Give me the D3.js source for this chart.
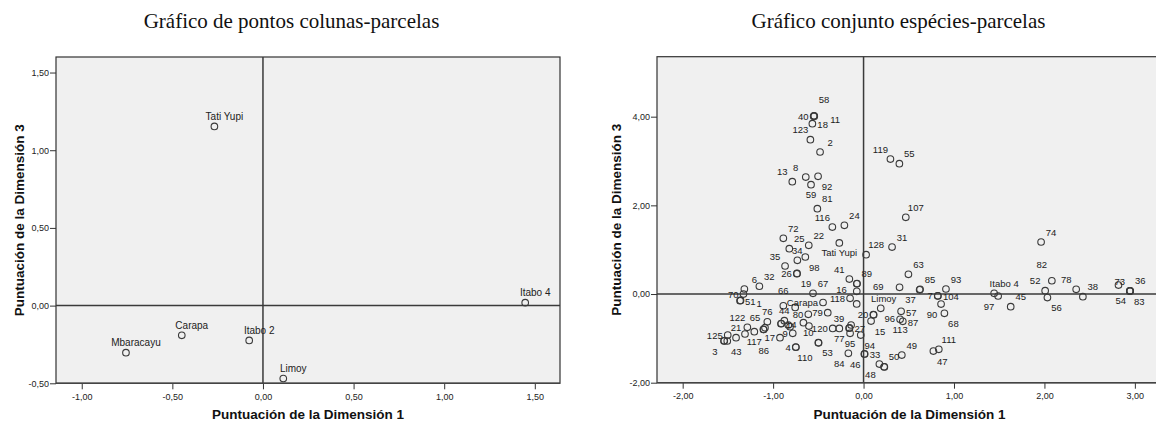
<!DOCTYPE html>
<html><head><meta charset="utf-8">
<script src="https://cdn.jsdelivr.net/npm/d3@7"></script>
<style>
body{margin:0;background:#fff;}
svg{display:block;}
.tick text{font-family:"Liberation Sans",Arial,sans-serif;font-size:9px;fill:#222;}
.lbl{font-family:"Liberation Sans",Arial,sans-serif;fill:#222;}
.ttl{font-family:"Liberation Serif","Times New Roman",serif;font-size:21px;fill:#111;}
.axt{font-family:"Liberation Sans",Arial,sans-serif;font-size:13.5px;font-weight:bold;fill:#111;}
</style></head>
<body>
<svg id="c" width="1156" height="422"></svg>
<script>
// ---------- DATA ----------
// Left chart: column (site) points
const siteNames = ["Tati Yupi","Itabo 4","Carapa","Itabo 2","Mbaracayu","Limoy"];
const siteDim1  = [-0.268, 1.447, -0.448, -0.076, -0.756, 0.112];
const siteDim3  = [ 1.153, 0.019, -0.191, -0.224, -0.303, -0.469];

// Right chart: joint plot species + sites (label, dim1, dim3); null label = label hidden
const jointLabels = ["58","40","11","18","123","2","119","55","13","8","92","59","81","107","116","24",
 "72","25","22","Tati Yupi","34","98","35","128","31","26","19","32","6","70","51","1","41","89","69",
 "63","85","37",null,"93","7","104","Itabo 4","97","45","74","82","52","56","78","38",null,"73","36","54","83",
 "16","118","Itabo 2","Carapa","67","66","Mbaracayu","76","44","14",null,"80","79","122","65",null,"86","117",
 null,"125","21","3",null,"43","17","9",null,null,"4","110","10","53","120","77","39","27",null,"95","94",
 "84","46","33","48","50",null,"49","47","111","Limoy","20","15","96","57","113","87","90","68",null,null];
const jointDim1 = [-0.548,-0.552,-0.545,-0.566,-0.588,-0.481,0.297,0.396,-0.788,-0.639,-0.503,-0.581,-0.511,0.467,-0.345,-0.212,
 -0.887,-0.821,-0.606,-0.268,-0.732,-0.644,-0.868,0.028,0.315,-0.738,-0.735,-1.152,-1.318,-1.328,-1.366,-1.360,-0.157,-0.075,-0.072,
 0.496,0.625,0.620,0.398,0.911,0.820,0.822,1.444,1.488,1.627,1.963,2.082,2.008,2.033,2.351,2.425,2.819,2.944,2.948,2.944,2.948,
 -0.075,-0.149,-0.076,-0.448,-0.559,-0.887,-0.756,-1.064,-0.876,-0.913,-0.910,-0.611,-0.396,-1.285,-1.090,-1.108,-1.104,-1.208,
 -1.311,-1.502,-1.410,-1.543,-1.540,-1.507,-0.924,-0.783,-0.813,-0.832,-0.750,-0.748,-0.500,-0.497,-0.341,-0.268,-0.160,-0.155,-0.138,-0.149,-0.031,
 -0.168,0.009,0.012,0.175,0.227,0.230,0.423,0.772,0.832,0.112,0.108,0.083,0.190,0.415,0.404,0.434,0.857,0.894,-0.665,-0.604];
const jointDim3 = [4.020,4.010,4.012,3.842,3.481,3.203,3.045,2.940,2.534,2.639,2.654,2.466,1.925,1.730,1.511,1.549,
 1.256,1.022,1.098,1.153,0.760,0.835,0.632,0.887,1.060,0.460,0.465,0.175,0.113,0.000,-0.150,-0.145,0.338,0.232,0.236,
 0.444,0.106,0.095,0.151,0.113,-0.040,-0.042,0.016,-0.045,-0.286,1.173,0.300,0.075,-0.080,0.106,-0.060,0.203,0.068,0.072,0.070,0.066,
 0.060,-0.097,-0.224,-0.191,0.016,-0.264,-0.303,-0.625,-0.602,-0.670,-0.665,-0.458,-0.420,-0.752,-0.760,-0.797,-0.800,-0.850,
 -0.902,-0.925,-0.985,-1.060,-1.055,-1.060,-0.985,-0.887,-0.737,-0.699,-1.195,-1.200,-1.098,-1.100,-0.775,-0.775,-0.770,-0.765,-0.699,-0.887,-0.925,
 -1.338,-1.353,-1.350,-1.579,-1.640,-1.645,-1.376,-1.286,-1.248,-0.469,-0.465,-0.609,-0.323,-0.390,-0.571,-0.615,-0.226,-0.436,-0.647,-0.722];
// label placement around the point (compass code)
const jointLabelPos = ["NE","w","E","e","nw","ne","nw","ne","nw","nw","se","s","ne","ne","nw","ne",
 "ne","ne","ne","s","n","se","nw","ne","ne","w","se","ne","ne","w","e","E","nw","ne","E",
 "ne","ne","sw","","ne","w","e","ne","sw","ne","ne","NW","nw","se","nw","ne","","nw","ne","sw","se",
 "W","w","","w","ne","N","","n","n","e","","w","w","nw","nw","","S","s",
 "","w","n","sw","","se","w","w","","","w","se","nw","se","w","s","nw","e","","s","se",
 "sw","sw","e","sw","ne","","ne","se","ne","NE","w","se","se","e","s","e","sw","se","",""];

const leftXTicks  = [-1.0,-0.5,0.0,0.5,1.0,1.5];
const leftYTicks  = [-0.5,0.0,0.5,1.0,1.5];
const rightXTicks = [-2,-1,0,1,2,3];
const rightYTicks = [-2,0,2,4];

const titles = ["Gráfico de pontos colunas-parcelas","Gráfico conjunto espécies-parcelas"];
const xTitle = "Puntuación de la Dimensión 1";
const yTitle = "Puntuación de la Dimensión 3";

// ---------- DRAW ----------
const svg = d3.select("#c");
const loc = d3.formatLocale({decimal:",",thousands:".",grouping:[3],currency:["",""],minus:"-"});
const fmt = loc.format(".2f");

const offs = {
  ne:[10,-10,"middle"], nw:[-10,-10,"middle"], se:[9,10,"middle"], sw:[-9,10,"middle"],
  n:[0,-10,"middle"], s:[0,10,"middle"], e:[5,1,"start"], w:[-5,0,"end"],
  NE:[10,-16,"middle"], NW:[-10,-16,"middle"], N:[0,-15,"middle"], S:[0,21,"middle"], E:[16,3,"start"],
  W:[-10,-2,"end"]
};

function panel(o){
  const g = svg.append("g");
  const x = d3.scaleLinear().domain(o.xd).range([o.x0,o.x1]);
  const y = d3.scaleLinear().domain(o.yd).range([o.y1,o.y0]);
  g.append("rect").attr("x",o.x0).attr("y",o.y0).attr("width",o.x1-o.x0).attr("height",o.y1-o.y0)
    .attr("fill","#f0f0f0").attr("stroke","#333").attr("stroke-width",1.2);
  // reference lines
  g.append("line").attr("x1",x(0)).attr("x2",x(0)).attr("y1",o.y0).attr("y2",o.y1).attr("stroke","#3a3a3a").attr("stroke-width",1.5);
  g.append("line").attr("x1",o.x0).attr("x2",o.x1).attr("y1",y(0)).attr("y2",y(0)).attr("stroke","#3a3a3a").attr("stroke-width",1.5);
  // axes
  const ax = g.append("g").attr("transform",`translate(0,${o.y1})`)
    .call(d3.axisBottom(x).tickValues(o.xt).tickFormat(fmt).tickSize(6).tickPadding(4));
  ax.select(".domain").remove();
  ax.selectAll(".tick line").attr("stroke","#333");
  const ay = g.append("g").attr("transform",`translate(${o.x0},0)`)
    .call(d3.axisLeft(y).tickValues(o.yt).tickFormat(fmt).tickSize(6).tickPadding(1));
  ay.select(".domain").remove();
  ay.selectAll(".tick line").attr("stroke","#333");
  g.append("line").attr("x1",o.x0).attr("x2",o.x1).attr("y1",o.y1).attr("y2",o.y1).attr("stroke","#444").attr("stroke-width",1.6);
  // titles
  svg.append("text").attr("class","ttl").attr("x",o.tx).attr("y",28).attr("text-anchor","middle").text(o.title);
  svg.append("text").attr("class","axt").attr("x",(o.x0+o.x1)/2).attr("y",419).attr("text-anchor","middle").text(xTitle);
  svg.append("text").attr("class","axt").attr("transform",`translate(${o.ytx},${(o.y0+o.y1)/2}) rotate(-90)`)
    .attr("text-anchor","middle").text(yTitle);
  // points
  const pts = o.labels.map((l,i)=>({l, x:o.dx[i], y:o.dy[i], p:o.pos[i]}));
  g.append("g").selectAll("circle").data(pts).join("circle")
    .attr("cx",d=>x(d.x)).attr("cy",d=>y(d.y)).attr("r",3.3)
    .attr("fill","none").attr("stroke","#3a3a3a").attr("stroke-width",1.1);
  g.append("g").selectAll("text").data(pts.filter(d=>d.l && d.p)).join("text")
    .attr("class","lbl").style("font-size",o.fs+"px")
    .attr("x",d=>x(d.x)+offs[d.p][0]).attr("y",d=>y(d.y)+offs[d.p][1])
    .attr("text-anchor",d=>offs[d.p][2]).attr("dominant-baseline","central")
    .text(d=>d.l);
}

panel({x0:56,x1:560,y0:57,y1:383.3,xd:[-1.142,1.639],yd:[-0.5,1.60],xt:leftXTicks,yt:leftYTicks,
  tx:291.5,ytx:24,title:titles[0],labels:siteNames,dx:siteDim1,dy:siteDim3,
  pos:siteNames.map(()=> "ne"),fs:10});
panel({x0:657,x1:1162,y0:56.7,y1:382.7,xd:[-2.284,3.30],yd:[-2.0,5.353],xt:rightXTicks,yt:rightYTicks,
  tx:898.5,ytx:621,title:titles[1],labels:jointLabels,dx:jointDim1,dy:jointDim3,pos:jointLabelPos,fs:9.5});
</script>
</body></html>
